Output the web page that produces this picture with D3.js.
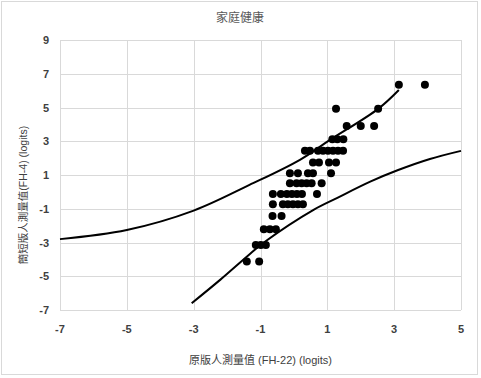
<!DOCTYPE html>
<html>
<head>
<meta charset="utf-8">
<script src="https://cdn.jsdelivr.net/npm/d3@7"></script>
<style>
  body { margin: 0; background: #fff; }
  svg { display: block; }
</style>
</head>
<body>
<script>
// data (logits)
const xTicks = [-7, -5, -3, -1, 1, 3, 5];
const yTicks = [-7, -5, -3, -1, 1, 3, 5, 7, 9];

// points as [FH-22, FH-4]
const points = [
  [3.14, 6.35], [3.92, 6.35],
  [1.26, 4.92], [2.52, 4.92],
  [1.58, 3.91], [2.0, 3.91], [2.4, 3.91],
  [1.15, 3.12], [1.3, 3.12], [1.48, 3.12],
  [0.33, 2.43], [0.48, 2.43], [0.72, 2.43], [0.87, 2.43], [1.02, 2.43], [1.17, 2.43], [1.32, 2.43], [1.47, 2.43],
  [0.57, 1.74], [0.75, 1.74], [1.05, 1.74], [1.26, 1.74],
  [-0.12, 1.11], [0.12, 1.11], [0.42, 1.11], [0.57, 1.11], [1.11, 1.11],
  [-0.12, 0.51], [0.08, 0.51], [0.23, 0.51], [0.38, 0.51], [0.53, 0.51], [0.83, 0.51],
  [-0.63, -0.12], [-0.39, -0.12], [-0.21, -0.12], [-0.06, -0.12], [0.09, -0.12], [0.24, -0.12], [0.69, -0.12],
  [-0.63, -0.73], [-0.33, -0.73], [-0.18, -0.73], [-0.03, -0.73], [0.12, -0.73], [0.27, -0.73],
  [-0.64, -1.43], [-0.37, -1.43],
  [-0.9, -2.22], [-0.72, -2.22], [-0.54, -2.22],
  [-1.14, -3.15], [-0.99, -3.15], [-0.84, -3.15],
  [-1.41, -4.13], [-1.04, -4.13]
];

// control band curves
const upperCurve = [
  [-7, -2.8], [-5, -2.26], [-3, -1.11], [-1.33, 0.41], [0.18, 1.9],
  [1.08, 3.08], [2.52, 4.92], [3.14, 6.04]
];
const lowerCurve = [
  [-3.06, -6.6], [-2.2, -5.2], [-1.3, -3.65], [-0.9, -3.0], [0.6, -1.05],
  [1.3, -0.35], [2.3, 0.62], [3.1, 1.28], [4.07, 1.95], [5, 2.43]
];

const width = 481, height = 378;
const plot = {left: 60, right: 461, top: 40, bottom: 310};
const font = "'Liberation Sans', 'Noto Sans CJK TC', sans-serif";

const svg = d3.select("body").append("svg")
  .attr("width", width)
  .attr("height", height);

// outer chart frame
svg.append("rect")
  .attr("x", 1.5).attr("y", 1.5)
  .attr("width", 476).attr("height", 373)
  .attr("fill", "#fff")
  .attr("stroke", "#d9d9d9");

const x = d3.scaleLinear().domain([-7, 5]).range([plot.left, plot.right]);
const y = d3.scaleLinear().domain([-7, 9]).range([plot.bottom, plot.top]);

// gridlines
svg.append("g")
  .selectAll("line")
  .data(xTicks)
  .join("line")
  .attr("x1", d => Math.round(x(d)) + 0.5)
  .attr("x2", d => Math.round(x(d)) + 0.5)
  .attr("y1", plot.top)
  .attr("y2", plot.bottom)
  .attr("stroke", "#d9d9d9");

svg.append("g")
  .selectAll("line")
  .data(yTicks)
  .join("line")
  .attr("x1", plot.left)
  .attr("x2", plot.right)
  .attr("y1", d => Math.round(y(d)) + 0.5)
  .attr("y2", d => Math.round(y(d)) + 0.5)
  .attr("stroke", "#d9d9d9");

// tick labels
svg.append("g")
  .selectAll("text")
  .data(yTicks)
  .join("text")
  .attr("x", 49)
  .attr("y", d => y(d) + 4)
  .attr("text-anchor", "end")
  .attr("font-family", font)
  .attr("font-size", 11)
  .attr("font-weight", "bold")
  .attr("fill", "#404040")
  .text(d => d);

svg.append("g")
  .selectAll("text")
  .data(xTicks)
  .join("text")
  .attr("x", d => x(d))
  .attr("y", 333)
  .attr("text-anchor", "middle")
  .attr("font-family", font)
  .attr("font-size", 11)
  .attr("font-weight", "bold")
  .attr("fill", "#404040")
  .text(d => d);

// curves
const line = d3.line()
  .x(d => x(d[0]))
  .y(d => y(d[1]))
  .curve(d3.curveCatmullRom);

[upperCurve, lowerCurve].forEach(c => {
  svg.append("path")
    .datum(c)
    .attr("fill", "none")
    .attr("stroke", "#000")
    .attr("stroke-width", 2)
    .attr("d", line);
});

// points
svg.append("g")
  .selectAll("circle")
  .data(points)
  .join("circle")
  .attr("cx", d => x(d[0]))
  .attr("cy", d => y(d[1]))
  .attr("r", 4)
  .attr("fill", "#000");

// titles
svg.append("text")
  .attr("x", 240)
  .attr("y", 22)
  .attr("text-anchor", "middle")
  .attr("font-family", font)
  .attr("font-size", 12)
  .attr("fill", "#595959")
  .text("家庭健康");

svg.append("text")
  .attr("x", (plot.left + plot.right) / 2)
  .attr("y", 364)
  .attr("text-anchor", "middle")
  .attr("font-family", font)
  .attr("font-size", 11)
  .attr("fill", "#404040")
  .text("原版人測量值 (FH-22) (logits)");

svg.append("text")
  .attr("transform", "translate(27,195) rotate(-90)")
  .attr("text-anchor", "middle")
  .attr("font-family", font)
  .attr("font-size", 10.5)
  .attr("fill", "#404040")
  .text("簡短版人測量值(FH-4) (logits)");
</script>
</body>
</html>
